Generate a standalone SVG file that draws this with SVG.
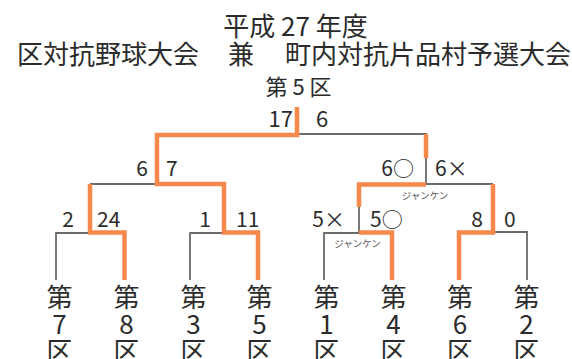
<svg xmlns="http://www.w3.org/2000/svg" width="572" height="359" viewBox="0 0 572 359">
<style>
text{font-family:"Noto Sans CJK JP","Noto Sans",sans-serif;fill:#2b2b2b}
.t{font-size:26px}
.s{font-size:21px}
.f{font-size:22px}
.j{font-size:9.5px;fill:#555;text-anchor:middle}
.e{text-anchor:end}
.m{text-anchor:middle}
.g{fill:none;stroke:#6b6b6b;stroke-width:1.8}
.o{fill:none;stroke:#f5884a;stroke-width:4.5;stroke-linejoin:miter;stroke-linecap:butt}
.lab{font-size:26px;text-anchor:middle}
</style>
<g id="title">
<text class="t m" x="295.5" y="35.5">平成 27 年度</text>
<text class="t" y="64"><tspan x="17">区対抗野球大会</tspan><tspan x="228">兼</tspan><tspan x="285">町内対抗片品村予選大会</tspan></text>
</g>
<g id="winner"><text class="f m" x="298.5" y="95">第 5 区</text></g>
<g id="connectors">
<path class="g" d="M297 134H426V184"/>
<path class="g" d="M90 184H157"/>
<path class="g" d="M56 280V233H90"/>
<path class="g" d="M190 280V233H224"/>
<path class="g" d="M426 184H493"/>
<path class="g" d="M359 207V233H324V280"/>
<path class="g" d="M493 232H527V280"/>
<path class="o" d="M297 107V135H157V184H224V232.5H258V280"/>
<path class="o" d="M90 184V232.5H124.5V280"/>
<path class="o" d="M426 134V158"/>
<path class="o" d="M359 207V184.5H426"/>
<path class="o" d="M392 280V232.5H359"/>
<path class="o" d="M493 184V232.5H459V280"/>
</g>
<g id="scores">
<text class="f e" x="293" y="127">17</text>
<text class="f" x="316" y="127">6</text>
<text class="s e" x="148" y="176">6</text>
<text class="s" x="166" y="176">7</text>
<text class="s e" x="414" y="176">6○</text>
<text class="s" x="435" y="176">6×</text>
<text class="j" x="425" y="199">ジャンケン</text>
<text class="s e" x="74" y="227">2</text>
<text class="s" x="97" y="227">24</text>
<text class="s e" x="211" y="227">1</text>
<text class="s" x="236" y="227">11</text>
<text class="s e" x="345" y="227">5×</text>
<text class="s" x="370" y="227">5○</text>
<text class="j" x="357.5" y="247">ジャンケン</text>
<text class="s e" x="483" y="227">8</text>
<text class="s" x="504" y="227">0</text>
</g>
<g id="team7"><text class="lab" y="307"><tspan x="59.5">第</tspan><tspan x="59.5" dy="27">7</tspan><tspan x="59.5" dy="27">区</tspan></text></g>
<g id="team8"><text class="lab" y="307"><tspan x="126.5">第</tspan><tspan x="126.5" dy="27">8</tspan><tspan x="126.5" dy="27">区</tspan></text></g>
<g id="team3"><text class="lab" y="307"><tspan x="193.5">第</tspan><tspan x="193.5" dy="27">3</tspan><tspan x="193.5" dy="27">区</tspan></text></g>
<g id="team5"><text class="lab" y="307"><tspan x="259.5">第</tspan><tspan x="259.5" dy="27">5</tspan><tspan x="259.5" dy="27">区</tspan></text></g>
<g id="team1"><text class="lab" y="307"><tspan x="326.5">第</tspan><tspan x="326.5" dy="27">1</tspan><tspan x="326.5" dy="27">区</tspan></text></g>
<g id="team4"><text class="lab" y="307"><tspan x="393.5">第</tspan><tspan x="393.5" dy="27">4</tspan><tspan x="393.5" dy="27">区</tspan></text></g>
<g id="team6"><text class="lab" y="307"><tspan x="460">第</tspan><tspan x="460" dy="27">6</tspan><tspan x="460" dy="27">区</tspan></text></g>
<g id="team2"><text class="lab" y="307"><tspan x="526.5">第</tspan><tspan x="526.5" dy="27">2</tspan><tspan x="526.5" dy="27">区</tspan></text></g>
</svg>
